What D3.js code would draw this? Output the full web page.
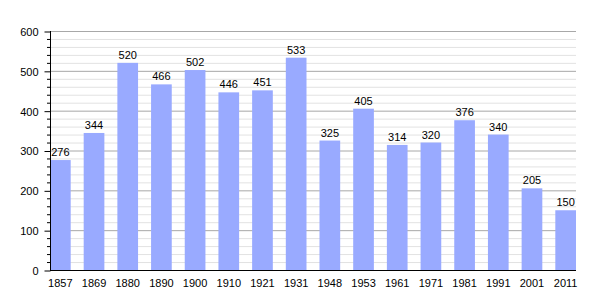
<!DOCTYPE html>
<html><head><meta charset="utf-8">
<script src="https://cdn.jsdelivr.net/npm/d3@7"></script>
<style>body{margin:0;background:#fff}svg{display:block;font-family:"Liberation Sans",Arial,sans-serif}</style>
</head><body><svg id="c" width="605" height="300"></svg>
<script>
const years = ["1857","1869","1880","1890","1900","1910","1921","1931","1948","1953","1961","1971","1981","1991","2001","2011"];
const population = [276,344,520,466,502,446,451,533,325,405,314,320,376,340,205,150];
const yTicks = [0,100,200,300,400,500,600];

const svg = d3.select("#c");
const L = 50, R = 576, T = 31, B = 270;
const x = d3.scaleBand().domain(years).range([L, R]).paddingInner(0.386).paddingOuter(0);
const y = d3.scaleLinear().domain([0, 600]).range([B, T]);

// minor gridlines
const minor = d3.range(20, 600, 20).filter(v => v % 100 !== 0);
svg.append("g").selectAll("line").data(minor).join("line")
  .attr("x1", L).attr("x2", R).attr("y1", d => y(d)+0.5).attr("y2", d => y(d)+0.5)
  .attr("stroke", "#e2e2e2").attr("stroke-width", 1);
svg.append("g").selectAll("line").data(yTicks.filter(v => v > 0)).join("line")
  .attr("x1", L).attr("x2", R).attr("y1", d => y(d)+0.5).attr("y2", d => y(d)+0.5)
  .attr("stroke", "#a8a8a8").attr("stroke-width", 1);

// bars
svg.append("g").selectAll("rect").data(population).join("rect")
  .attr("x", (d, i) => x(years[i])).attr("width", x.bandwidth())
  .attr("y", d => y(d)).attr("height", d => B - y(d))
  .attr("fill", "#99aaff");

// value labels
svg.append("g").selectAll("text").data(population).join("text")
  .attr("x", (d, i) => x(years[i]) + x.bandwidth()/2).attr("y", d => y(d) - 4)
  .attr("text-anchor", "middle").attr("font-size", 11).attr("fill", "#000")
  .text(d => d);

// y axis minor ticks
svg.append("g").selectAll("line").data(minor).join("line")
  .attr("x1", L-3).attr("x2", L).attr("y1", d => y(d)+0.5).attr("y2", d => y(d)+0.5)
  .attr("stroke", "#000");
// y axis
const yAxis = d3.axisLeft(y).tickValues(yTicks).tickSize(6).tickPadding(6);
const gy = svg.append("g").attr("transform", `translate(${L+0.5},0.5)`).call(yAxis);
gy.select(".domain").remove();
gy.selectAll("text").attr("font-size", 11).attr("font-family", "Liberation Sans, Arial, sans-serif").attr("fill","#000").attr("dy","0.35em");
svg.append("line").attr("x1", L+0.5).attr("x2", L+0.5).attr("y1", T).attr("y2", B+1).attr("stroke", "#000");

// x axis
svg.append("line").attr("x1", L).attr("x2", R).attr("y1", B+0.5).attr("y2", B+0.5).attr("stroke", "#000");
const xAxis = d3.axisBottom(x).tickSize(0).tickPadding(9);
const gx = svg.append("g").attr("transform", `translate(0,${B})`).call(xAxis);
gx.select(".domain").remove();
gx.selectAll("text").attr("font-size", 11).attr("font-family", "Liberation Sans, Arial, sans-serif").attr("fill","#000");
</script></body></html>
